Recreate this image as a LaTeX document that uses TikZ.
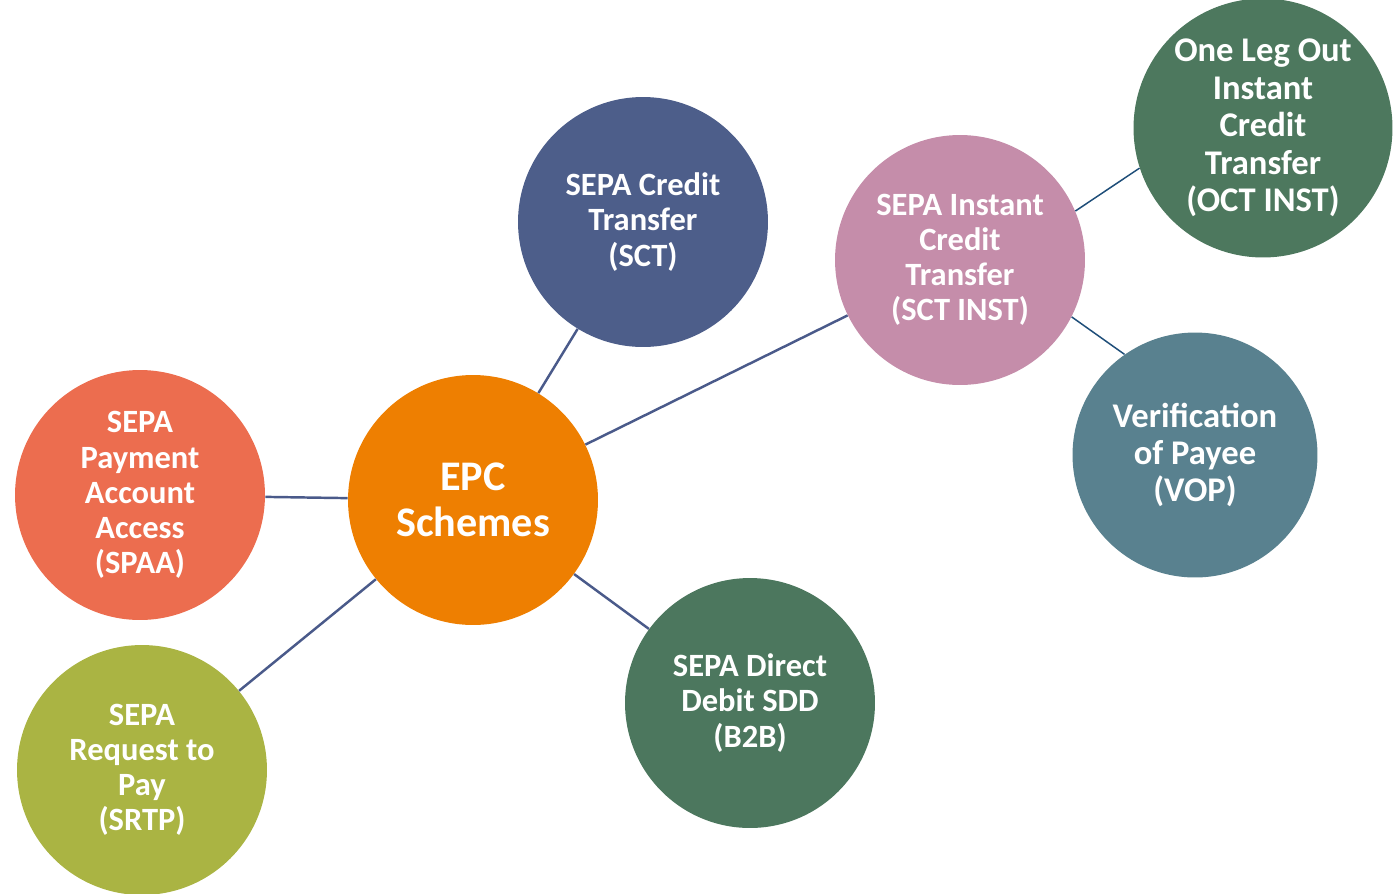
\documentclass[tikz,border=0pt]{standalone}
\usepackage{fontspec}
\setmainfont{Carlito}
\usepackage{tikz}

\definecolor{epcorange}{HTML}{EE7F01}
\definecolor{sctblue}{HTML}{4D5E8A}
\definecolor{instpink}{HTML}{C58DAA}
\definecolor{octgreen}{HTML}{4D785E}
\definecolor{vopteal}{HTML}{59818F}
\definecolor{spaacoral}{HTML}{EC6D4F}
\definecolor{srtpolive}{HTML}{AAB443}
\definecolor{sddgreen}{HTML}{4C775E}
\definecolor{linkblue}{HTML}{4A5A8A}
\definecolor{linkdark}{HTML}{1F4E79}

\begin{document}
\begin{tikzpicture}[x=0.02cm, y=-0.02cm,
        scheme/.style={shape=circle, draw=none, minimum size=5cm, inner sep=0pt,
            align=center, text=white, font=\bfseries\fontsize{18.5}{20}\selectfont},
        bigtext/.style={font=\bfseries\fontsize{19.7}{21.3}\selectfont},
        link/.style={draw=linkblue, line width=1.4pt},
        sublink/.style={draw=linkdark, line width=0.85pt}]
        \useasboundingbox (0,0) rectangle (1399,893);

        % centre
        \node (epc) at (473,500) [scheme, fill=epcorange, font=\bfseries\fontsize{24}{26.2}\selectfont] {EPC\\Schemes};

        % schemes
        \node (sct) at (643,222) [scheme, fill=sctblue] {SEPA Credit\\Transfer\\(SCT)};
        \node (inst) at (960,260) [scheme, fill=instpink] {SEPA Instant\\Credit\\Transfer\\(SCT INST)};
        \node (spaa) at (140,495) [scheme, fill=spaacoral] {SEPA\\Payment\\Account\\Access\\(SPAA)};
        \node (srtp) at (142,770) [scheme, fill=srtpolive] {SEPA\\Request to\\Pay\\(SRTP)};
        \node (sdd) at (750,703) [scheme, fill=sddgreen] {SEPA Direct\\Debit SDD\\(B2B)};

        % instant add-ons
        \node (oct) at (1263,128) [scheme, bigtext, fill=octgreen, minimum size=5.18cm] {One Leg Out\\Instant\\Credit\\Transfer\\(OCT INST)};
        \node (vop) at (1195,455) [scheme, bigtext, fill=vopteal, minimum size=4.9cm] {Verification\\of Payee\\(VOP)};

        % connections
        \draw[link] (epc) -- (sct);
        \draw[link] (epc) -- (inst);
        \draw[link] (epc) -- (spaa);
        \draw[link] (epc) -- (srtp);
        \draw[link] (epc) -- (sdd);
        \draw[sublink] (inst.23) -- (oct.198);
        \draw[sublink] (inst.-27) -- (vop.125);
    \end{tikzpicture}
\end{document}
